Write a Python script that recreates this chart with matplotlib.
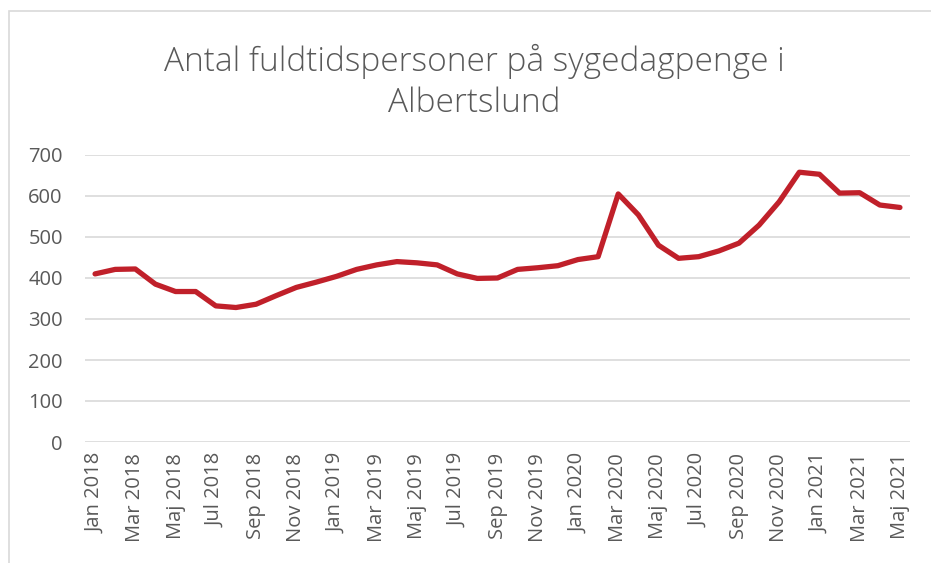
import matplotlib
matplotlib.use("Agg")
import matplotlib.pyplot as plt
from matplotlib.patches import Rectangle

months = ["Jan", "Feb", "Mar", "Apr", "Maj", "Jun", "Jul", "Aug", "Sep", "Okt", "Nov", "Dec"]
years = [2018, 2019, 2020, 2021]
categories = [f"{m} {y}" for y in years for m in months][:41]

values = [410, 421, 422, 385, 367, 367, 332, 328, 336, 357, 377, 390,
          404, 421, 432, 440, 437, 432, 410, 399, 400, 421, 425, 430,
          445, 452, 605, 554, 480, 448, 452, 466, 485, 529, 586, 658,
          653, 607, 608, 578, 572]

yticks = [0, 100, 200, 300, 400, 500, 600, 700]
title = "Antal fuldtidspersoner på sygedagpenge i\nAlbertslund"

plt.rcParams['font.family'] = ['Open Sans', 'DejaVu Sans']
grey = "#595959"

fig = plt.figure(figsize=(9.31, 5.63), dpi=100)
ax = fig.add_axes([85/931, 1-442/563, (910-85)/931, (442-155)/563])

x = list(range(len(values)))
ax.plot(x, values, color="#C0202A", lw=3.8, solid_capstyle="round", solid_joinstyle="round", zorder=3)

ax.set_xlim(-0.5, len(values) - 0.5)
ax.set_ylim(0, 700)
ax.set_yticks(yticks)
ax.set_yticklabels([str(v) for v in yticks], fontsize=14.5, color=grey)
ax.set_xticks(x[::2])
ax.set_xticklabels(categories[::2], rotation=90, fontsize=14.5, color=grey)
ax.tick_params(axis="y", length=0, pad=16)
ax.tick_params(axis="x", length=0, pad=8)
ax.grid(axis="y", color="#D9D9D9", lw=1.2)
ax.set_axisbelow(True)
for s in ax.spines.values():
    s.set_visible(False)

fig.text(474/931, 1-82/563, title, ha="center", va="center", fontsize=24, color=grey,
         linespacing=1.32, fontweight="light")

fig.patches.append(Rectangle((9/931, -0.05), 1.0, 1 - 11/563 + 0.05, transform=fig.transFigure,
                             fill=False, edgecolor="#D9D9D9", lw=1.2))

fig.savefig("out.png", dpi=100)
